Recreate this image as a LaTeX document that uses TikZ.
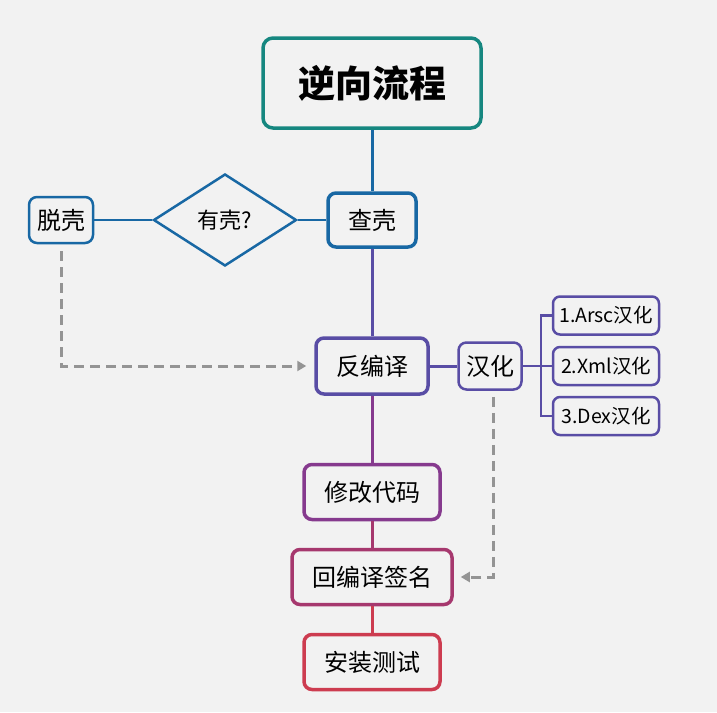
\documentclass[tikz,border=0pt]{standalone}
\usepackage{fontspec}
\setmainfont{Noto Sans CJK SC}
\usetikzlibrary{shapes.geometric,arrows.meta}
\definecolor{bgcol}{RGB}{242,242,242}
\definecolor{tealc}{RGB}{22,135,128}
\definecolor{bluec}{RGB}{24,104,164}
\definecolor{violc}{RGB}{89,77,165}
\definecolor{purpc}{RGB}{134,58,142}
\definecolor{magc}{RGB}{166,56,110}
\definecolor{redc}{RGB}{205,60,80}
\definecolor{dashc}{RGB}{148,148,148}
\tikzset{
  box/.style={draw,rounded corners=8pt,fill=bgcol,inner sep=0pt,
    line width=3.5pt,font=\fontsize{24}{24}\selectfont},
  smallbox/.style={box,line width=2.5pt},
  subbox/.style={smallbox,rounded corners=7pt,minimum width=106,minimum height=38,
    font=\fontsize{19.5}{19.5}\selectfont},
  link/.style={line width=3pt},
  dashlink/.style={dashc,line width=3pt,dash pattern=on 10pt off 6pt,
    -{Triangle[width=10pt,length=9pt]}}
}
\begin{document}
\begin{tikzpicture}[x=1pt,y=-1pt]
\fill[bgcol] (0,0) rectangle (717,712);
\useasboundingbox (0,0) rectangle (717,712);
% main column
\node[box,draw=tealc,rounded corners=10pt,minimum width=218,minimum height=90,
  font=\fontsize{37}{37}\selectfont\bfseries] (title) at (372,83) {逆向流程};
\node[box,draw=bluec,minimum width=88,minimum height=54] (chake) at (372,220) {查壳};
\node[draw=bluec,line width=2.5pt,diamond,aspect=1.55,inner sep=0pt,
  minimum width=143,minimum height=92,font=\fontsize{22}{22}\selectfont] (youke) at (225,220) {有壳?};
\node[smallbox,draw=bluec,minimum width=64,minimum height=46] (tuoke) at (61,220) {脱壳};
\node[box,draw=violc,minimum width=112,minimum height=56] (fanbianyi) at (372,366) {反编译};
\node[smallbox,draw=violc,minimum width=63,minimum height=47] (hanhua) at (490,366) {汉化};
\node[subbox,draw=violc] (arsc) at (606,315.5) {1.Arsc汉化};
\node[subbox,draw=violc] (xml) at (606,366) {2.Xml汉化};
\node[subbox,draw=violc] (dex) at (606,416) {3.Dex汉化};
\node[box,draw=purpc,minimum width=136,minimum height=55] (xiugai) at (372,492) {修改代码};
\node[box,draw=magc,minimum width=160,minimum height=55] (huibianyi) at (372,577) {回编译签名};
\node[box,draw=redc,minimum width=136,minimum height=55] (anzhuang) at (372,662) {安装测试};
% connectors
\draw[link,bluec] (title) -- (chake);
\draw[link,bluec,line width=2.5pt] (chake) -- (youke) -- (tuoke);
\draw[link,violc] (chake) -- (fanbianyi);
\draw[link,violc] (fanbianyi) -- (hanhua);
\coordinate (fork) at (541,366);
\draw[link,violc,line width=2.5pt] (hanhua) -- (fork);
\draw[link,violc,line width=2.5pt] (arsc.west) -| (fork) |- (dex.west);
\draw[link,violc,line width=2.5pt] (fork) -- (xml.west);
\draw[link,purpc] (fanbianyi) -- (xiugai);
\draw[link,magc] (xiugai) -- (huibianyi);
\draw[link,redc] (huibianyi) -- (anzhuang);
\draw[dashlink,shorten <=7pt,shorten >=8pt] (tuoke.south) |- (fanbianyi.west);
\draw[dashlink,shorten <=6pt,shorten >=7pt] ([xshift=3pt]hanhua.south) |- (huibianyi.east);
\end{tikzpicture}
\end{document}
